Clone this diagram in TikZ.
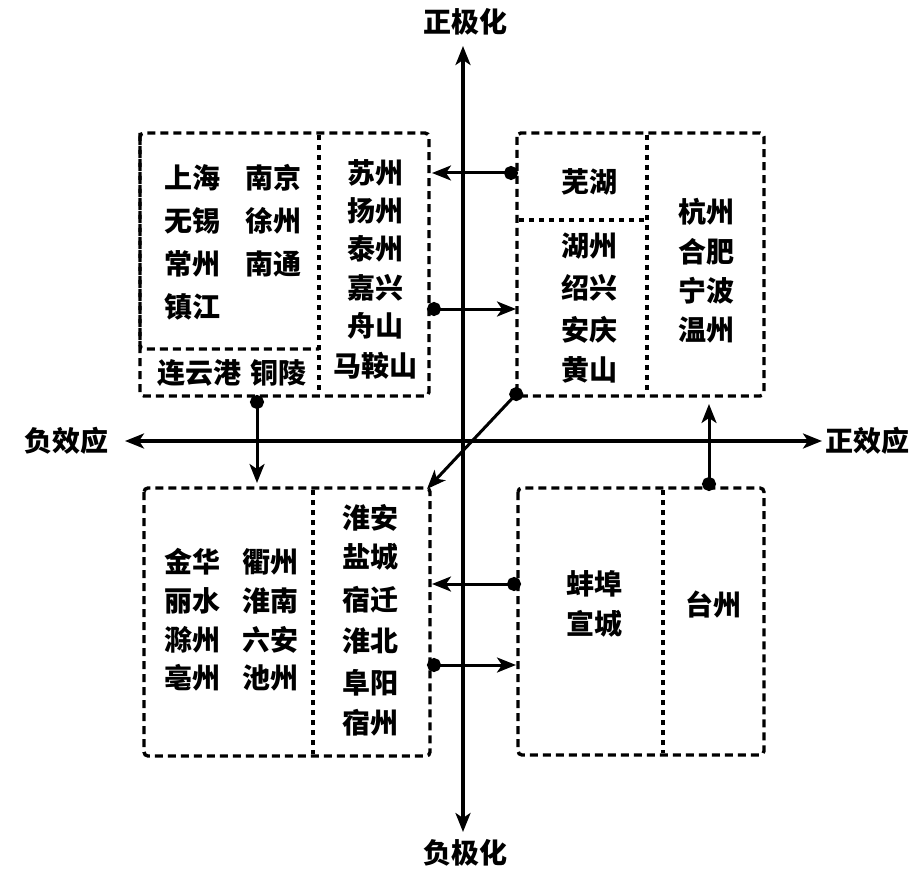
\documentclass[tikz,border=0pt]{standalone}
\usepackage{fontspec}
\newfontfamily\cjk{Noto Sans CJK SC}
\usetikzlibrary{arrows.meta}
\begin{document}
\begin{tikzpicture}[x=1pt,y=-1pt,
  box/.style={line width=3.4pt, dash pattern=on 8pt off 5pt, rounded corners=4pt},
  divider/.style={line width=3.4pt, dash pattern=on 5pt off 5pt},
  ax/.style={line width=3.2pt, {Stealth[length=19pt,width=15pt,inset=5pt]}-{Stealth[length=19pt,width=15pt,inset=5pt]}},
  conn/.style={line width=3pt, {Circle[length=14pt]}-{Stealth[length=19pt,width=15pt,inset=5pt]}},
  lab/.style={font=\cjk\bfseries\fontsize{28}{30}\selectfont, inner sep=0pt}]
\useasboundingbox (0,0) rectangle (924,869);
\fill[white] (0,0) rectangle (924,869);

% axes
\node[lab] (ypos) at (465,22) {正极化};
\node[lab] (yneg) at (465,853) {负极化};
\node[lab] (xneg) at (66,441) {负效应};
\node[lab] (xpos) at (867,441) {正效应};
\coordinate (yt) at (463,46);
\coordinate (yb) at (463,832);
\coordinate (xl) at (125,441);
\coordinate (xr) at (822,441);
\draw[ax] (yb) -- (yt);
\draw[ax] (xl) -- (xr);

% top-left block
\draw[box] (140,133) rectangle (429,396);
\draw[divider] (319,135) -- (319,394);
\draw[box] (140,133) -- (140,349) -- (319,349);
\node[lab] at (192,178) {上海};
\node[lab] at (273,178) {南京};
\node[lab] at (192,221) {无锡};
\node[lab] at (273,221) {徐州};
\node[lab] at (192,264) {常州};
\node[lab] at (273,264) {南通};
\node[lab] at (192,307) {镇江};
\node[lab] at (199,373) {连云港};
\node[lab] at (278,373) {铜陵};
\node[lab] at (375,173) {苏州};
\node[lab] at (375,211) {扬州};
\node[lab] at (375,249) {泰州};
\node[lab] at (375,288) {嘉兴};
\node[lab] at (375,326) {舟山};
\node[lab] at (375,366) {马鞍山};

% top-right block
\draw[box] (517,133) rectangle (764,396);
\draw[divider] (647,135) -- (647,394);
\draw[divider] (519,220) -- (645,220);
\node[lab] at (589,182) {芜湖};
\node[lab] at (589,246) {湖州};
\node[lab] at (589,288) {绍兴};
\node[lab] at (589,330) {安庆};
\node[lab] at (589,370) {黄山};
\node[lab] at (706,212) {杭州};
\node[lab] at (706,252) {合肥};
\node[lab] at (706,291) {宁波};
\node[lab] at (706,330) {温州};

% bottom-left block
\draw[box] (144,488) rectangle (430,756);
\draw[divider] (313,490) -- (313,754);
\node[lab] at (192,562) {金华};
\node[lab] at (270,562) {衢州};
\node[lab] at (192,601) {丽水};
\node[lab] at (270,601) {淮南};
\node[lab] at (192,640) {滁州};
\node[lab] at (270,640) {六安};
\node[lab] at (192,678) {亳州};
\node[lab] at (270,678) {池州};
\node[lab] at (370,518) {淮安};
\node[lab] at (370,557) {盐城};
\node[lab] at (370,600) {宿迁};
\node[lab] at (370,641) {淮北};
\node[lab] at (370,683) {阜阳};
\node[lab] at (370,723) {宿州};

% bottom-right block
\draw[box] (518,488) rectangle (764,755);
\draw[divider] (663,490) -- (663,753);
\node[lab] at (594,584) {蚌埠};
\node[lab] at (594,624) {宣城};
\node[lab] at (713,605) {台州};

% connector end points
\coordinate (a1) at (518,173);
\coordinate (a2) at (432,173);
\coordinate (b1) at (427,309);
\coordinate (b2) at (516,309);
\coordinate (c1) at (521,389);
\coordinate (c2) at (427,489);
\coordinate (d1) at (257,395);
\coordinate (d2) at (257,483);
\coordinate (e1) at (709,491);
\coordinate (e2) at (709,404);
\coordinate (f1) at (521,584);
\coordinate (f2) at (432,584);
\coordinate (g1) at (427,665);
\coordinate (g2) at (516,665);

\foreach \s/\t in {a1/a2,b1/b2,c1/c2,d1/d2,e1/e2,f1/f2,g1/g2}
  \draw[conn] (\s) -- (\t);
\end{tikzpicture}
\end{document}
